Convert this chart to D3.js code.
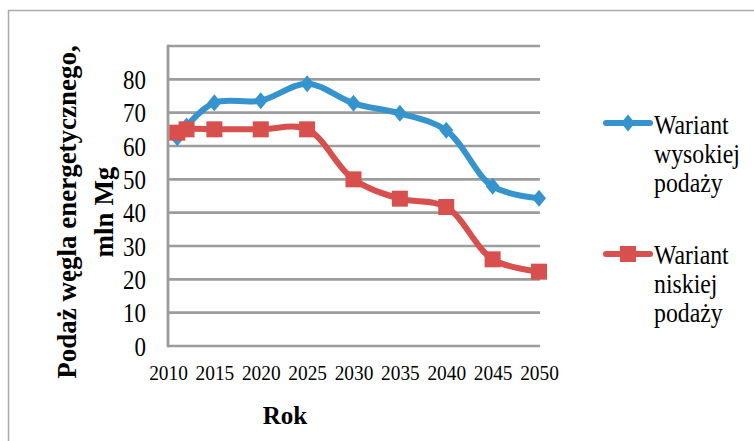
<!DOCTYPE html>
<html>
<head>
<meta charset="utf-8">
<script src="https://cdn.jsdelivr.net/npm/d3@7/dist/d3.min.js"></script>
<style>
  html, body { margin: 0; padding: 0; background: #fff; }
  svg { display: block; }
</style>
</head>
<body>
<svg id="chart" width="754" height="441"></svg>
<script>
// ---- data ----
const yearsHigh = [2011, 2012, 2015, 2020, 2025, 2030, 2035, 2040, 2045, 2050];
const valuesHigh = [62.5, 66, 73, 73.6, 78.7, 72.8, 69.8, 64.7, 47.9, 44.3];
const yearsLow = [2011, 2012, 2015, 2020, 2025, 2030, 2035, 2040, 2045, 2050];
const valuesLow = [64, 65, 65, 65, 65, 50, 44.2, 41.7, 26, 22.3];
const xTickLabels = [2010, 2015, 2020, 2025, 2030, 2035, 2040, 2045, 2050];
const yTickLabels = [0, 10, 20, 30, 40, 50, 60, 70, 80];
const gridValues = [0, 10, 20, 30, 40, 50, 60, 70, 80, 90];
const seriesNames = [["Wariant", "wysokiej", "podaży"], ["Wariant", "niskiej", "podaży"]];
const yTitleLines = ["Podaż węgla energetycznego,", "mln Mg"];
const xTitle = "Rok";

const blue = "#3594cd";
const red = "#d8504d";
const gridColor = "#9c9c9c";
const serif = '"Liberation Serif"';

const svg = d3.select("#chart");

// outer border
svg.append("rect").attr("x", 8.5).attr("y", 10.5).attr("width", 900).attr("height", 600)
  .attr("fill", "none").attr("stroke", "#aaaaaa").attr("stroke-width", 1.5);

const x = d3.scaleLinear().domain([2010, 2050]).range([168, 539]);
const y = d3.scaleLinear().domain([0, 90]).range([346, 46]);

// gridlines
svg.append("g").selectAll("line").data(gridValues).join("line")
  .attr("x1", x(2010)).attr("x2", 540)
  .attr("y1", d => y(d)).attr("y2", d => y(d))
  .attr("stroke", gridColor).attr("stroke-width", 2.6);

// left axis line
svg.append("line").attr("x1", x(2010)).attr("x2", x(2010))
  .attr("y1", y(90) - 1.3).attr("y2", y(0) + 1.3)
  .attr("stroke", gridColor).attr("stroke-width", 2.8);

// y axis labels
const yAxis = svg.append("g").attr("transform", `translate(${x(2010)},0)`)
  .call(d3.axisLeft(y).tickValues(yTickLabels).tickSize(0).tickFormat(d3.format("d")));
yAxis.attr("font-family", null).attr("font-size", null);
yAxis.select(".domain").remove();
yAxis.selectAll("text")
  .attr("x", 0).attr("dy", "0.33em").attr("fill", "#000")
  .attr("transform", "translate(-22,0) scale(0.82,1)")
  .style("font-size", "28px").style("font-family", serif);

// x axis labels
const xAxis = svg.append("g").attr("transform", `translate(0,${y(0)})`)
  .call(d3.axisBottom(x).tickValues(xTickLabels).tickSize(0).tickFormat(d3.format("d")));
xAxis.attr("font-family", null).attr("font-size", null);
xAxis.select(".domain").remove();
xAxis.selectAll("text")
  .attr("y", 0).attr("dy", 0).attr("fill", "#000")
  .attr("transform", "translate(0,34) scale(0.88,1)")
  .style("font-size", "22px").style("font-family", serif);

// lines
const line = d3.line().x(d => x(d[0])).y(d => y(d[1])).curve(d3.curveCatmullRom.alpha(0.5));
const high = yearsHigh.map((yr, i) => [yr, valuesHigh[i]]);
const low = yearsLow.map((yr, i) => [yr, valuesLow[i]]);

svg.append("path").datum(high).attr("d", line)
  .attr("fill", "none").attr("stroke", blue).attr("stroke-width", 6).attr("stroke-linejoin", "round");

const diamond = (cx, cy) => `M${cx},${cy - 8.5}L${cx + 7},${cy}L${cx},${cy + 8.5}L${cx - 7},${cy}Z`;
svg.append("g").selectAll("path").data(high).join("path")
  .attr("d", d => diamond(x(d[0]), y(d[1])))
  .attr("fill", blue);

svg.append("path").datum(low).attr("d", line)
  .attr("fill", "none").attr("stroke", red).attr("stroke-width", 6).attr("stroke-linejoin", "round");
svg.append("g").selectAll("rect").data(low).join("rect")
  .attr("x", d => x(d[0]) - 8).attr("y", d => y(d[1]) - 8)
  .attr("width", 16).attr("height", 16)
  .attr("fill", red);

// legend
const legendY = [123, 254];
const legendBase = [[134, 163, 192], [264, 293, 322]];
[blue, red].forEach((c, i) => {
  svg.append("line").attr("x1", 606).attr("x2", 650)
    .attr("y1", legendY[i]).attr("y2", legendY[i])
    .attr("stroke", c).attr("stroke-width", 6).attr("stroke-linecap", "round");
  if (i === 0) {
    svg.append("path").attr("d", diamond(628, legendY[i])).attr("fill", c);
  } else {
    svg.append("rect").attr("x", 628 - 8).attr("y", legendY[i] - 8)
      .attr("width", 16).attr("height", 16).attr("fill", c);
  }
  seriesNames[i].forEach((t, j) => {
    svg.append("text")
      .attr("transform", `translate(654,${legendBase[i][j]}) scale(0.85,1)`)
      .attr("fill", "#000")
      .style("font-size", "28px").style("font-family", serif)
      .text(t);
  });
});

// axis titles
svg.append("text")
  .attr("transform", "translate(285,424)")
  .attr("text-anchor", "middle").attr("fill", "#000")
  .style("font-size", "25px").style("font-weight", "bold").style("font-family", serif)
  .text(xTitle);

const yTitleX = [76, 113];
yTitleLines.forEach((t, i) => {
  svg.append("text")
    .attr("transform", `translate(${yTitleX[i]},212) rotate(-90)`)
    .attr("text-anchor", "middle").attr("fill", "#000")
    .style("font-size", "27px").style("font-weight", "bold").style("font-family", serif)
    .text(t);
});
</script>
</body>
</html>
